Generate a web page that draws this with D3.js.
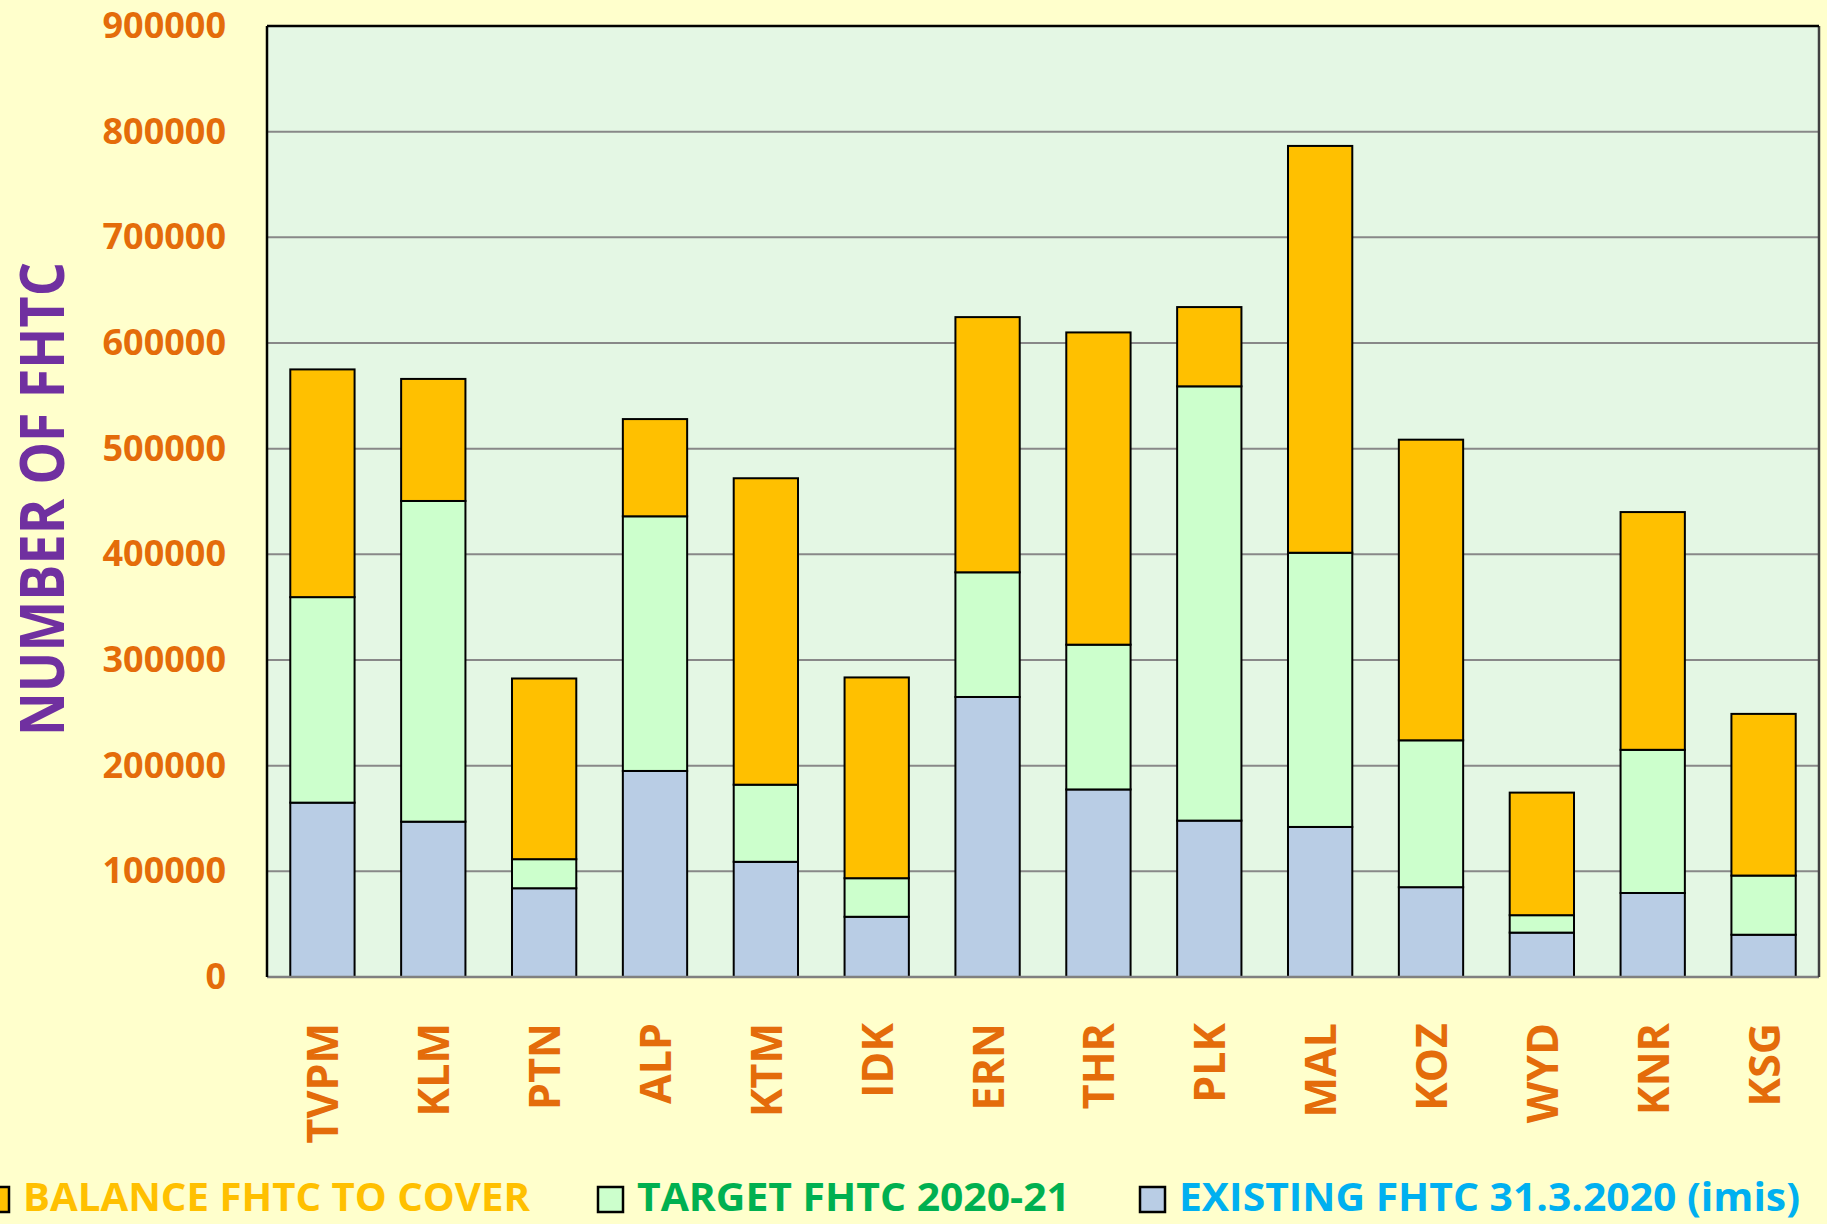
<!DOCTYPE html>
<html lang="en">
<head>
  <meta charset="UTF-8">
  <title>Number of FHTC</title>
  <script src="https://d3js.org/d3.v7.min.js"></script>
  <style>
    body { margin: 0; background: #FFFFCC; }
    svg { display: block; font-family: "Open Sans", "Noto Sans", sans-serif; font-weight: bold; }
  </style>
</head>
<body>
<div id="chart"></div>
<script>
// Districts
const districts = ["TVPM", "KLM", "PTN", "ALP", "KTM", "IDK", "ERN", "THR", "PLK", "MAL", "KOZ", "WYD", "KNR", "KSG"];

// Series values
const existing = [165000, 147000, 84000, 195000, 109000, 57000, 265000, 177500, 148000, 142000, 85000, 42000, 79500, 40000];
const target   = [194500, 303500, 27500, 241000, 73000, 36500, 118000, 137000, 411000, 259500, 139000, 16500, 135500, 56000];
const balance  = [215500, 115500, 171000, 92000, 290000, 190000, 241500, 295500, 75000, 385000, 284500, 116000, 225000, 153000];

const yTicks = [0, 100000, 200000, 300000, 400000, 500000, 600000, 700000, 800000, 900000];

const seriesKeys = ["existing", "target", "balance"];
const seriesNames = {
  balance: "BALANCE FHTC TO COVER",
  target: "TARGET FHTC 2020-21",
  existing: "EXISTING FHTC 31.3.2020 (imis)"
};
const fillColor = { existing: "#B9CDE5", target: "#CCFFCC", balance: "#FFC000" };
const textColor = { existing: "#00B0F0", target: "#00B050", balance: "#FFC000" };

const W = 1827, H = 1224;
const margin = { top: 26, right: 8, bottom: 247, left: 267 };
const width = W - margin.left - margin.right;
const height = H - margin.top - margin.bottom;

const rows = districts.map((d, i) => ({ name: d, existing: existing[i], target: target[i], balance: balance[i] }));
const stacked = d3.stack().keys(seriesKeys)(rows);

const svg = d3.select("#chart").append("svg")
  .attr("width", W)
  .attr("height", H);

svg.append("rect").attr("width", W).attr("height", H).attr("fill", "#FFFFCC");

const g = svg.append("g").attr("transform", `translate(${margin.left},${margin.top})`);

const x = d3.scaleBand()
  .domain(districts)
  .range([0, width])
  .paddingInner(0.42)
  .paddingOuter(0.21);

const y = d3.scaleLinear()
  .domain([0, 900000])
  .range([height, 0]);

// plot background
g.append("rect")
  .attr("width", width)
  .attr("height", height)
  .attr("fill", "#E4F7E4");

// gridlines
g.append("g")
  .selectAll("line")
  .data(yTicks.slice(1, -1))
  .join("line")
  .attr("x1", 0).attr("x2", width)
  .attr("y1", d => y(d)).attr("y2", d => y(d))
  .attr("stroke", "#888888")
  .attr("stroke-width", 2);

// bars
g.append("g")
  .selectAll("g")
  .data(stacked)
  .join("g")
  .attr("fill", d => fillColor[d.key])
  .selectAll("rect")
  .data(d => d)
  .join("rect")
  .attr("x", d => x(d.data.name))
  .attr("y", d => y(d[1]))
  .attr("width", x.bandwidth())
  .attr("height", d => y(d[0]) - y(d[1]))
  .attr("stroke", "#000")
  .attr("stroke-width", 2);

// plot frame: dark left/top, grey right/bottom
g.append("line").attr("x1", 0).attr("x2", width).attr("y1", height).attr("y2", height)
  .attr("stroke", "#808080").attr("stroke-width", 2.5);
g.append("line").attr("x1", width).attr("x2", width).attr("y1", 0).attr("y2", height)
  .attr("stroke", "#404040").attr("stroke-width", 2.5);
g.append("line").attr("x1", 0).attr("x2", width).attr("y1", 0).attr("y2", 0)
  .attr("stroke", "#000").attr("stroke-width", 2.5);
g.append("line").attr("x1", 0).attr("x2", 0).attr("y1", 0).attr("y2", height)
  .attr("stroke", "#000").attr("stroke-width", 2.5);

// y axis labels
const yAxis = g.append("g")
  .call(d3.axisLeft(y).tickValues(yTicks).tickFormat(d3.format("d")).tickSize(0).tickPadding(41));
yAxis.select(".domain").remove();
yAxis.selectAll("text")
  .attr("fill", "#E46C0A")
  .style("font-size", "36px")
  .style("font-family", "'Open Sans', sans-serif")
  .style("font-weight", "bold");

// x axis labels, rotated
g.append("g")
  .selectAll("text")
  .data(districts)
  .join("text")
  .attr("transform", d => `translate(${x(d) + x.bandwidth() / 2 + 16},${height + 46}) rotate(-90)`)
  .attr("text-anchor", "end")
  .attr("fill", "#E46C0A")
  .style("font-size", "43px")
  .text(d => d);

// y axis title
svg.append("text")
  .attr("transform", `translate(64,499) rotate(-90)`)
  .attr("text-anchor", "middle")
  .attr("fill", "#7030A0")
  .style("font-size", "60px")
  .attr("textLength", 474)
  .attr("lengthAdjust", "spacingAndGlyphs")
  .text("NUMBER OF FHTC");

// legend
const legendItems = [
  { key: "balance", box: -16, tx: 23, len: 507 },
  { key: "target", box: 598, tx: 637, len: 433 },
  { key: "existing", box: 1140, tx: 1179, len: 621 }
];
const legend = svg.append("g");
legend.selectAll("rect")
  .data(legendItems)
  .join("rect")
  .attr("x", d => d.box)
  .attr("y", 1187)
  .attr("width", 25)
  .attr("height", 25)
  .attr("fill", d => fillColor[d.key])
  .attr("stroke", "#000")
  .attr("stroke-width", 2.5);
legend.selectAll("text")
  .data(legendItems)
  .join("text")
  .attr("x", d => d.tx)
  .attr("y", 1211)
  .attr("fill", d => textColor[d.key])
  .style("font-size", "39px")
  .attr("textLength", d => d.len)
  .attr("lengthAdjust", "spacingAndGlyphs")
  .text(d => seriesNames[d.key]);
</script>
</body>
</html>
